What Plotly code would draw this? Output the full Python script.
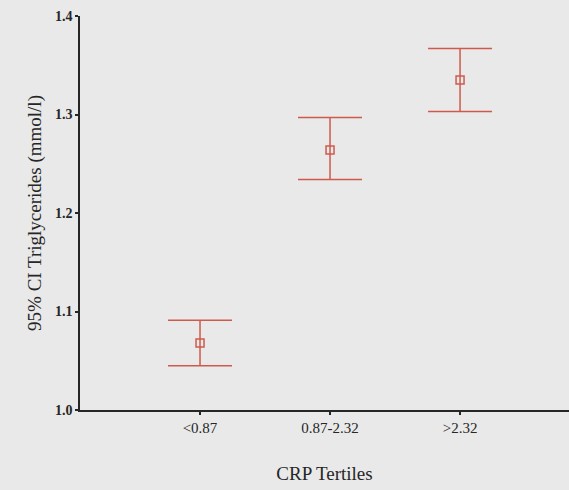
import plotly.graph_objects as go

categories = ["<0.87", "0.87-2.32", ">2.32"]
means = [1.068, 1.264, 1.335]
upper = [1.091, 1.297, 1.367]
lower = [1.045, 1.234, 1.303]
y_ticks = [1.0, 1.1, 1.2, 1.3, 1.4]

xpos = [1, 2, 3]
red = "#cf5a4c"
ink = "#262626"
bg = "#e9e9e9"

fig = go.Figure()
fig.add_trace(go.Scatter(
    x=xpos, y=means, mode="markers",
    marker=dict(symbol="square-open", size=8, color=red, line=dict(width=1.5, color=red)),
    error_y=dict(type="data", symmetric=False,
                 array=[u - m for u, m in zip(upper, means)],
                 arrayminus=[m - l for m, l in zip(means, lower)],
                 color=red, thickness=1.5, width=32),
    showlegend=False,
))

font = "Liberation Serif, Times New Roman, serif"
fig.update_layout(
    width=569, height=490,
    margin=dict(l=80, r=0, t=16, b=80),
    paper_bgcolor=bg, plot_bgcolor=bg,
    font=dict(family=font, color=ink, size=14),
    xaxis=dict(range=[0.0769, 3.838], tickvals=xpos, ticktext=categories,
               showgrid=False, zeroline=False, showline=True, linecolor=ink, linewidth=1.5,
               ticks="outside", ticklen=3, tickwidth=2, tickcolor=ink,
               tickfont=dict(size=15, family=font),
               title=dict(text="CRP Tertiles", font=dict(size=19, family=font), standoff=32)),
    yaxis=dict(range=[1.0, 1.4], tickvals=y_ticks, ticktext=[f"<b>{v:.1f}</b>" for v in y_ticks],
               showgrid=False, zeroline=False, showline=True, linecolor=ink, linewidth=1.5,
               ticks="outside", ticklen=3, tickwidth=2, tickcolor=ink,
               tickfont=dict(size=14, family=font),
               title=dict(text="95% CI Triglycerides (mmol/l)", font=dict(size=19, family=font), standoff=8)),
)
fig.write_html("out.html")
